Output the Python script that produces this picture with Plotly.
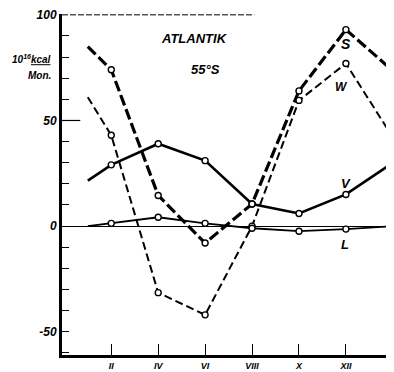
import plotly.graph_objects as go

# Monate (I = 1 ... XII = 12, II des Folgejahres = 14)
monate = [1, 2, 4, 6, 8, 10, 12, 14]
S = [85, 74, 14.5, -8, 10.5, 64, 93, 73.5]
W = [61, 43, -31.5, -42, 0, 59.5, 77, 42]
V = [21.5, 29, 39, 31, 10.5, 6, 15, 30]
L = [0, 1.3, 4.2, 1.3, -1, -2.4, -1.4, 0]

x_ticks = [2, 4, 6, 8, 10, 12, 14]
x_labels = ["II", "IV", "VI", "VIII", "X", "XII", "II"]
y_ticks = [-50, 0, 50, 100]
y_labels = ["-50", "0", "50", "100"]

ital = dict(family="Liberation Sans", color="black", style="italic", weight="bold")

fig = go.Figure()

stile = {
    "S": dict(width=3.2, dash="11px,4px"),
    "W": dict(width=2, dash="8px,4px"),
    "V": dict(width=2.6, dash="solid"),
    "L": dict(width=1.8, dash="solid"),
}
for name, werte in [("S", S), ("W", W), ("V", V), ("L", L)]:
    fig.add_trace(go.Scatter(x=monate, y=werte, mode="lines",
                             line=dict(color="black", **stile[name]),
                             showlegend=False, hoverinfo="skip"))
    # Messpunkte nur an den geraden Monaten
    fig.add_trace(go.Scatter(x=monate[1:], y=werte[1:], mode="markers",
                             marker=dict(symbol="circle", size=6, color="white",
                                         line=dict(color="black", width=1.4)),
                             showlegend=False, name=name))

fig.update_xaxes(range=[-0.1, 14.05], showgrid=False, zeroline=False,
                 showline=True, linecolor="black", linewidth=3,
                 tickvals=x_ticks, ticktext=x_labels, ticks="inside",
                 ticklen=11, tickwidth=1.2, tickcolor="black",
                 tickfont=dict(size=9, **ital))
fig.update_yaxes(range=[-61, 100.4], showgrid=False, zeroline=True,
                 zerolinecolor="black", zerolinewidth=1.3,
                 showline=True, linecolor="black", linewidth=3,
                 tickvals=y_ticks, ticktext=y_labels,
                 ticks="inside", ticklen=7, tickwidth=1, tickcolor="black",
                 tickfont=dict(size=12, **ital),
                 minor=dict(tick0=0, dtick=10, ticks="inside", ticklen=7,
                            tickwidth=1, tickcolor="black", showgrid=False))

# gestrichelte obere Begrenzung und laengerer Strich bei 50
fig.add_shape(type="line", xref="x", yref="y", x0=-0.1, x1=8.1, y0=100, y1=100,
              line=dict(color="black", width=1, dash="6px,2px"))
fig.add_shape(type="line", xref="paper", yref="y", x0=0, x1=0.055, y0=50, y1=50,
              line=dict(color="black", width=1.2))

notes = [
    (5.55, 89, "ATLANTIK", 13),
    (6.0, 74, "55°S", 13),
    (12.0, 86, "S", 14),
    (11.8, 66, "W", 12),
    (12.0, 20, "V", 13),
    (11.95, -8.5, "L", 13),
]
for x, y, t, s in notes:
    fig.add_annotation(x=x, y=y, text=t, showarrow=False,
                       font=dict(size=s, **ital))

# Einheit links neben der Achse
fig.add_annotation(xref="paper", x=-0.093, y=79, xanchor="center",
                   text="10<sup>16</sup><u>kcal</u>",
                   showarrow=False, font=dict(size=10, **ital))
fig.add_annotation(xref="paper", x=-0.068, y=71.5, xanchor="center",
                   text="Mon.", showarrow=False, font=dict(size=10, **ital))

# Seite hat 8px Rand, daher etwas kleiner
fig.update_layout(width=386, height=364, plot_bgcolor="white", paper_bgcolor="white",
                  margin=dict(l=54, r=0, t=6, b=17))

fig.write_html("out.html")
